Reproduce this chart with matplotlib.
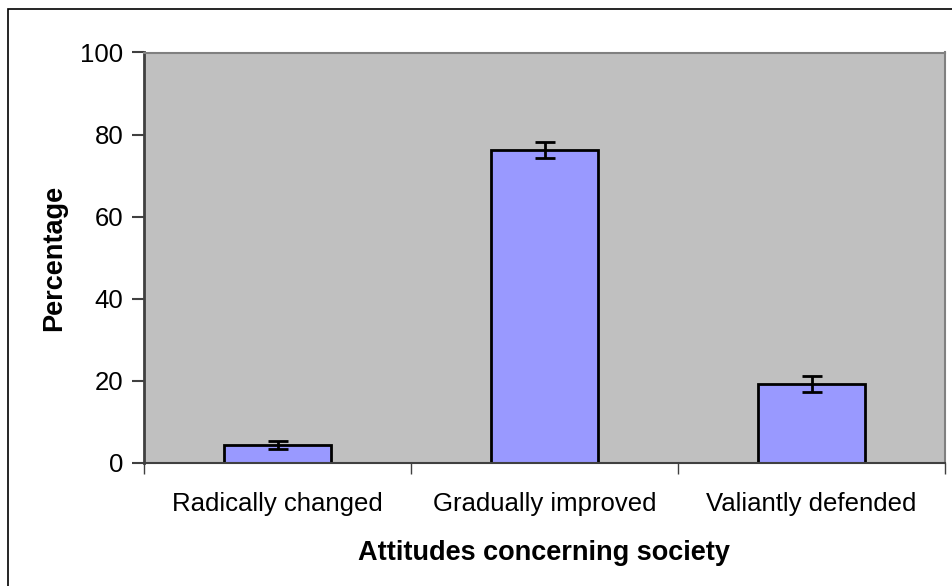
import matplotlib.pyplot as plt
from matplotlib.patches import Rectangle

categories = ['Radically changed', 'Gradually improved', 'Valiantly defended']
percentages = [4.4, 76.3, 19.3]
errors = [1.0, 2.0, 1.9]
y_ticks = [0, 20, 40, 60, 80, 100]

plt.rcParams['font.family'] = ['Liberation Sans', 'DejaVu Sans']
plt.rcParams['font.size'] = 18.5

fig = plt.figure(figsize=(9.52, 5.86), dpi=100)
ax = fig.add_axes([144 / 952, 123 / 586, 801 / 952, 410.5 / 586])

# outer chart frame (clipped at right/bottom like the original)
fig.patches.append(Rectangle((8 / 952, -0.05), 1.0, (586 - 9) / 586 + 0.05,
                             transform=fig.transFigure, fill=False,
                             edgecolor='black', linewidth=1.2))

ax.set_facecolor('#C0C0C0')
x = range(len(categories))
ax.bar(x, percentages, width=0.4, color='#9999FF', edgecolor='black', linewidth=2,
       zorder=2)
ax.errorbar(x, percentages, yerr=errors, fmt='none', ecolor='black', elinewidth=2,
            capsize=7, capthick=2, zorder=3)

ax.set_xlim(-0.5, 2.5)
ax.set_ylim(0, 100)
ax.set_yticks(y_ticks)
ax.set_xticks([-0.5, 0.5, 1.5, 2.5])
ax.set_xticklabels([])
ax.set_xticks(list(x), minor=True)
ax.set_xticklabels(categories, minor=True)
ax.tick_params(axis='x', which='major', length=8, width=1, color='#404040', direction='out')
ax.tick_params(axis='x', which='minor', length=0, pad=21)
ax.tick_params(axis='y', length=9, width=1.5, color='#404040', direction='out', pad=6)

for side in ['top', 'right']:
    ax.spines[side].set_color('#808080')
    ax.spines[side].set_linewidth(1.5)
ax.spines['left'].set_color('#404040')
ax.spines['left'].set_linewidth(2)
ax.spines['bottom'].set_color('#404040')
ax.spines['bottom'].set_linewidth(1.5)

ax.set_xlabel('Attitudes concerning society', fontweight='bold', fontsize=19.5, labelpad=17)
ax.set_ylabel('Percentage', fontweight='bold', fontsize=19.5, labelpad=9)

fig.savefig('out.png', dpi=100)
